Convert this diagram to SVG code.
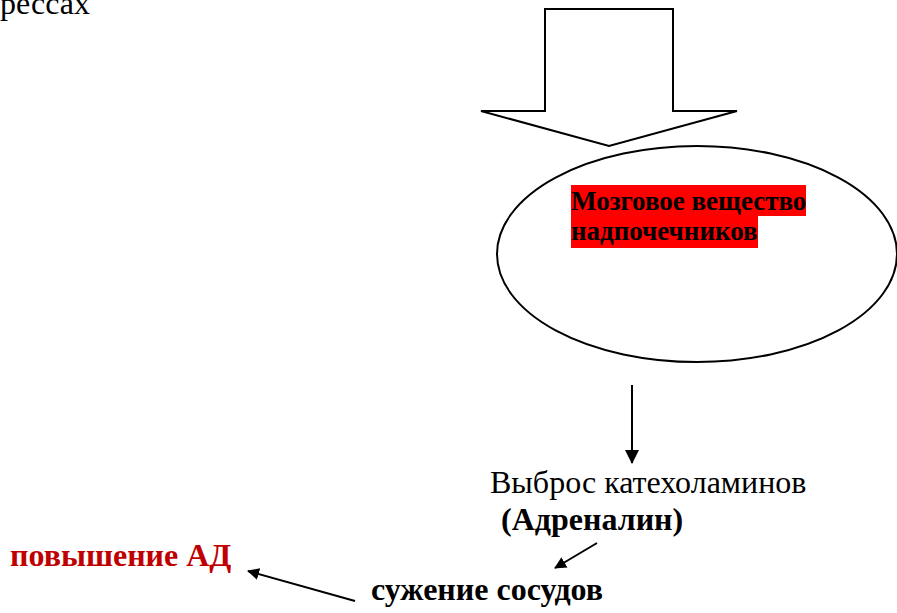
<svg xmlns="http://www.w3.org/2000/svg" width="897" height="613" viewBox="0 0 897 613">
<style>
.t{font-family:"Liberation Serif","Times New Roman",Times,serif;font-size:32px;fill:#000}
.b{font-weight:bold}
.shape{fill:#fff;stroke:#000;stroke-width:2}
.conn{stroke:#000;stroke-width:2;fill:none}
</style>
<defs>
<marker id="ah" markerWidth="12" markerHeight="12" refX="11" refY="6" orient="auto" markerUnits="userSpaceOnUse" viewBox="0 0 12 12">
<path d="M0,0 L12,6 L0,12 z" fill="#000"/>
</marker>
<marker id="ahBig" markerWidth="14" markerHeight="14" refX="13" refY="7" orient="auto" markerUnits="userSpaceOnUse" viewBox="0 0 14 14">
<path d="M0,0 L14,7 L0,14 z" fill="#000"/>
</marker>
</defs>
<g id="top-text"><text class="t" x="0" y="14">рессах</text></g>
<g id="block-arrow"><path class="shape" d="M545,9 L673,9 L673,111 L737,111 L609,146 L481,111 L545,111 Z"/></g>
<g id="adrenal">
<ellipse class="shape" cx="697" cy="254" rx="200" ry="108"/>
<rect x="571" y="185" width="235" height="31" fill="#ff0000"/>
<rect x="571" y="216" width="187" height="32" fill="#ff0000"/>
<text class="t b" style="font-size:27px" x="571" y="210">Мозговое вещество</text>
<text class="t b" style="font-size:27px" x="571" y="240">надпочечников</text>
</g>
<g id="release">
<text class="t" x="490" y="493">Выброс катехоламинов</text>
<text class="t b" x="501" y="530">(Адреналин)</text>
</g>
<g id="constriction"><text class="t b" x="371" y="600">сужение сосудов</text></g>
<g id="pressure"><text class="t b" x="10" y="566" style="fill:#c00000">повышение АД</text></g>
<g id="connectors">
<line class="conn" x1="632" y1="385" x2="632" y2="463" marker-end="url(#ahBig)"/>
<line class="conn" x1="597" y1="543" x2="555" y2="568" marker-end="url(#ah)"/>
<line class="conn" x1="355" y1="601" x2="248" y2="571" marker-end="url(#ah)"/>
</g>
</svg>
